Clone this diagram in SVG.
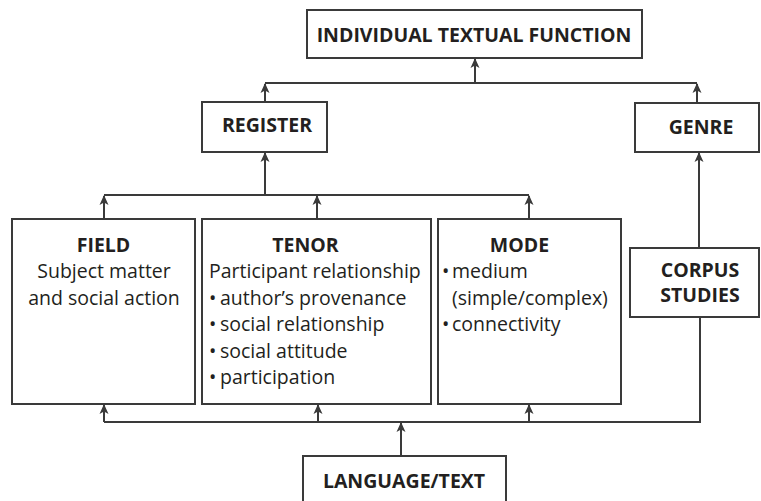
<svg xmlns="http://www.w3.org/2000/svg" width="761" height="501" viewBox="0 0 761 501">
<style>
.box{fill:#fff;stroke:#3a3a3a;stroke-width:2}
.ln{fill:none;stroke:#3a3a3a;stroke-width:2}
.ar{fill:none;stroke:#3a3a3a;stroke-width:2;marker-end:url(#ah)}
.t{font-family:"Open Sans","DejaVu Sans",sans-serif;font-size:19.5px;font-weight:700;fill:#231f20;text-anchor:middle}
.b{font-family:"Open Sans","DejaVu Sans",sans-serif;font-size:19.5px;font-weight:400;fill:#231f20}
.c{text-anchor:middle}
</style>
<defs>
<marker id="ah" markerUnits="userSpaceOnUse" markerWidth="12" markerHeight="12" refX="0" refY="0" orient="auto" viewBox="-10 -6 12 12" overflow="visible">
<path d="M1,0 L-9,-4.5 L-6.5,0 L-9,4.5 z" fill="#3a3a3a"/>
</marker>
</defs>
<rect width="761" height="501" fill="#fff"/>
<g id="connectors">
<line class="ar" x1="475" y1="83" x2="475" y2="59"/>
<polyline class="ln" points="265,83 697,83"/>
<line class="ar" x1="265" y1="102" x2="265" y2="84"/>
<line class="ar" x1="697" y1="103" x2="697" y2="84"/>
<line class="ar" x1="265" y1="195" x2="265" y2="153"/>
<polyline class="ln" points="104,195 529,195"/>
<line class="ar" x1="104" y1="219" x2="104" y2="196"/>
<line class="ar" x1="317" y1="219" x2="317" y2="196"/>
<line class="ar" x1="529" y1="219" x2="529" y2="196"/>
<line class="ar" x1="699" y1="248" x2="699" y2="153"/>
<polyline class="ln" points="104,422 700,422 700,317"/>
<line class="ar" x1="104" y1="422" x2="104" y2="405"/>
<line class="ar" x1="318" y1="422" x2="318" y2="405"/>
<line class="ar" x1="529" y1="422" x2="529" y2="405"/>
<line class="ar" x1="401" y1="456" x2="401" y2="423"/>
</g>
<g id="individual-textual-function">
<rect class="box" x="307" y="10" width="335" height="48"/>
<text class="t" x="474" y="41.5">INDIVIDUAL TEXTUAL FUNCTION</text>
</g>
<g id="register">
<rect class="box" x="202" y="102" width="125" height="50"/>
<text class="t" x="267" y="131.5">REGISTER</text>
</g>
<g id="genre">
<rect class="box" x="635" y="103" width="124" height="49"/>
<text class="t" x="701" y="134">GENRE</text>
</g>
<g id="field">
<rect class="box" x="12" y="219" width="183" height="185"/>
<text class="t" x="103.5" y="251.5">FIELD</text>
<text class="b c" x="104" y="278">Subject matter</text>
<text class="b c" x="104" y="304.5">and social action</text>
</g>
<g id="tenor">
<rect class="box" x="202" y="219" width="229" height="185"/>
<text class="t" x="305.5" y="251.5">TENOR</text>
<text class="b" x="209" y="278">Participant relationship</text>
<text class="b" y="304.5"><tspan x="209">•</tspan><tspan x="220">author’s provenance</tspan></text>
<text class="b" y="331"><tspan x="209">•</tspan><tspan x="220">social relationship</tspan></text>
<text class="b" y="357.5"><tspan x="209">•</tspan><tspan x="220">social attitude</tspan></text>
<text class="b" y="384"><tspan x="209">•</tspan><tspan x="220">participation</tspan></text>
</g>
<g id="mode">
<rect class="box" x="438" y="219" width="183" height="185"/>
<text class="t" x="519.5" y="251.5">MODE</text>
<text class="b" y="278"><tspan x="442">•</tspan><tspan x="452">medium</tspan></text>
<text class="b" x="452" y="304.5">(simple/complex)</text>
<text class="b" y="331"><tspan x="442">•</tspan><tspan x="452">connectivity</tspan></text>
</g>
<g id="corpus-studies">
<rect class="box" x="630" y="248" width="129" height="69"/>
<text class="t" x="700" y="276.5">CORPUS</text>
<text class="t" x="700" y="301.5">STUDIES</text>
</g>
<g id="language-text">
<rect class="box" x="303" y="456" width="203" height="60"/>
<text class="t" x="404" y="488">LANGUAGE/TEXT</text>
</g>
</svg>
